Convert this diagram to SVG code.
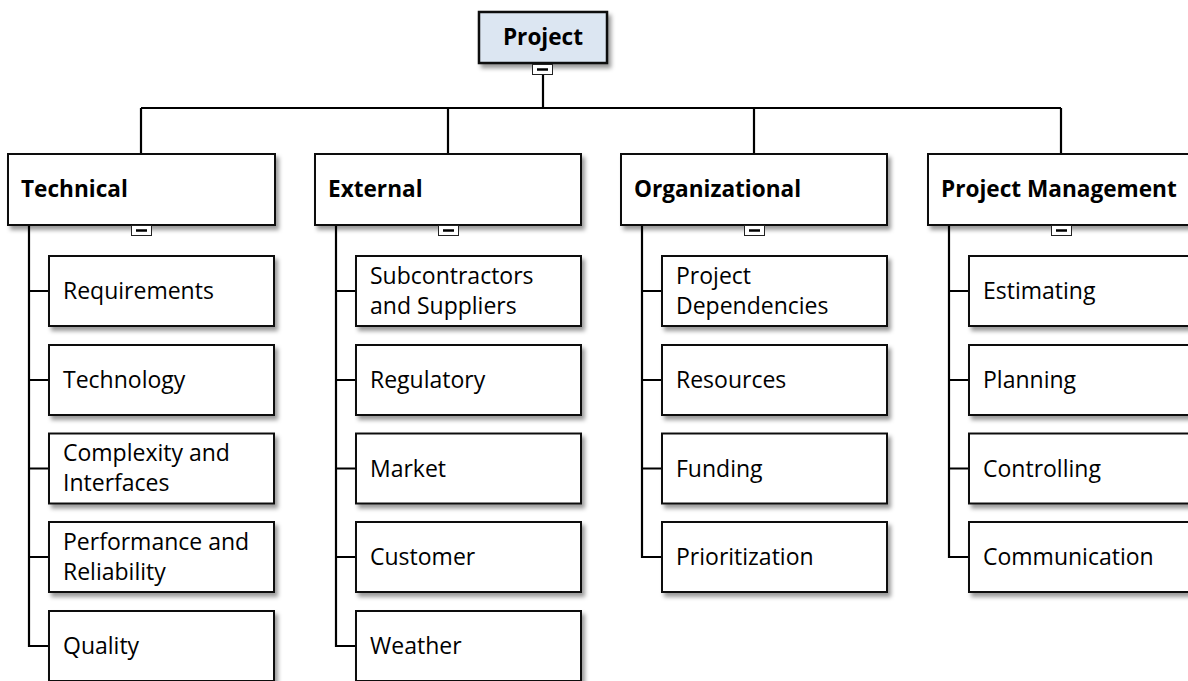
<svg xmlns="http://www.w3.org/2000/svg" width="1188" height="681" viewBox="0 0 1188 681">
<defs>
<filter id="sh" x="-10%" y="-10%" width="130%" height="140%">
<feDropShadow dx="3" dy="4" stdDeviation="2" flood-color="#000" flood-opacity="0.4"/>
</filter>
<style>
.box{fill:#fff;stroke:#111;stroke-width:2;filter:url(#sh)}
.root{fill:#dce6f2;stroke:#111;stroke-width:2.5;filter:url(#sh)}
.t{font-family:"Open Sans","Liberation Sans",sans-serif;font-size:23px;fill:#000}
.b{font-weight:bold;font-size:22.6px}
.ln{fill:none;stroke:#000;stroke-width:2.2}
.btn{fill:#fff;stroke:#222;stroke-width:1}
.dash{stroke:#000;stroke-width:2.5}
</style>
</defs>
<rect width="1188" height="681" fill="#fff"/>
<g id="connectors">
<path class="ln" d="M543 74V108M141 108H1061M141 108V154M448 108V154M754 108V154M1061 108V154"/>
<path class="ln" d="M29 225V646H49M29 291H49M29 380H49M29 468.5H49M29 557H49"/>
<path class="ln" d="M336 225V646H356M336 291H356M336 380H356M336 468.5H356M336 557H356"/>
<path class="ln" d="M642 225V557H662M642 291H662M642 380H662M642 468.5H662"/>
<path class="ln" d="M949 225V557H969M949 291H969M949 380H969M949 468.5H969"/>
</g>
<g id="project">
<rect class="root" x="479" y="12" width="128" height="51"/>
<text class="t b" x="543" y="45" text-anchor="middle">Project</text>
<rect class="btn" x="532.5" y="64.5" width="20" height="10"/><path class="dash" d="M537 69.5H548"/>
</g>
<g id="technical">
<rect class="box" x="8" y="154" width="267" height="71"/>
<text class="t b" x="21" y="197">Technical</text>
<rect class="btn" x="131.5" y="225.5" width="20" height="10"/><path class="dash" d="M136 230.5H147"/>
</g>
<g id="external">
<rect class="box" x="315" y="154" width="266" height="71"/>
<text class="t b" x="328" y="197">External</text>
<rect class="btn" x="438.5" y="225.5" width="20" height="10"/><path class="dash" d="M443 230.5H454"/>
</g>
<g id="organizational">
<rect class="box" x="621" y="154" width="266" height="71"/>
<text class="t b" x="634" y="197">Organizational</text>
<rect class="btn" x="744.5" y="225.5" width="20" height="10"/><path class="dash" d="M749 230.5H760"/>
</g>
<g id="pm">
<rect class="box" x="928" y="154" width="266" height="71"/>
<text class="t b" x="941" y="197">Project Management</text>
<rect class="btn" x="1051.5" y="225.5" width="20" height="10"/><path class="dash" d="M1056 230.5H1067"/>
</g>
<g id="t1"><rect class="box" x="49" y="256" width="225" height="70"/><text class="t" x="63" y="299">Requirements</text></g>
<g id="t2"><rect class="box" x="49" y="345" width="225" height="70"/><text class="t" x="63" y="388">Technology</text></g>
<g id="t3"><rect class="box" x="49" y="433.5" width="225" height="70"/><text class="t" x="63" y="461">Complexity and</text><text class="t" x="63" y="491">Interfaces</text></g>
<g id="t4"><rect class="box" x="49" y="522" width="225" height="70"/><text class="t" x="63" y="549.5">Performance and</text><text class="t" x="63" y="579.5">Reliability</text></g>
<g id="t5"><rect class="box" x="49" y="611" width="225" height="70"/><text class="t" x="63" y="654">Quality</text></g>
<g id="e1"><rect class="box" x="356" y="256" width="225" height="70"/><text class="t" x="370" y="283.5">Subcontractors</text><text class="t" x="370" y="313.5">and Suppliers</text></g>
<g id="e2"><rect class="box" x="356" y="345" width="225" height="70"/><text class="t" x="370" y="388">Regulatory</text></g>
<g id="e3"><rect class="box" x="356" y="433.5" width="225" height="70"/><text class="t" x="370" y="476.5">Market</text></g>
<g id="e4"><rect class="box" x="356" y="522" width="225" height="70"/><text class="t" x="370" y="565">Customer</text></g>
<g id="e5"><rect class="box" x="356" y="611" width="225" height="70"/><text class="t" x="370" y="654">Weather</text></g>
<g id="o1"><rect class="box" x="662" y="256" width="225" height="70"/><text class="t" x="676" y="283.5">Project</text><text class="t" x="676" y="313.5">Dependencies</text></g>
<g id="o2"><rect class="box" x="662" y="345" width="225" height="70"/><text class="t" x="676" y="388">Resources</text></g>
<g id="o3"><rect class="box" x="662" y="433.5" width="225" height="70"/><text class="t" x="676" y="476.5">Funding</text></g>
<g id="o4"><rect class="box" x="662" y="522" width="225" height="70"/><text class="t" x="676" y="565">Prioritization</text></g>
<g id="p1"><rect class="box" x="969" y="256" width="225" height="70"/><text class="t" x="983" y="299">Estimating</text></g>
<g id="p2"><rect class="box" x="969" y="345" width="225" height="70"/><text class="t" x="983" y="388">Planning</text></g>
<g id="p3"><rect class="box" x="969" y="433.5" width="225" height="70"/><text class="t" x="983" y="476.5">Controlling</text></g>
<g id="p4"><rect class="box" x="969" y="522" width="225" height="70"/><text class="t" x="983" y="565">Communication</text></g>
</svg>
